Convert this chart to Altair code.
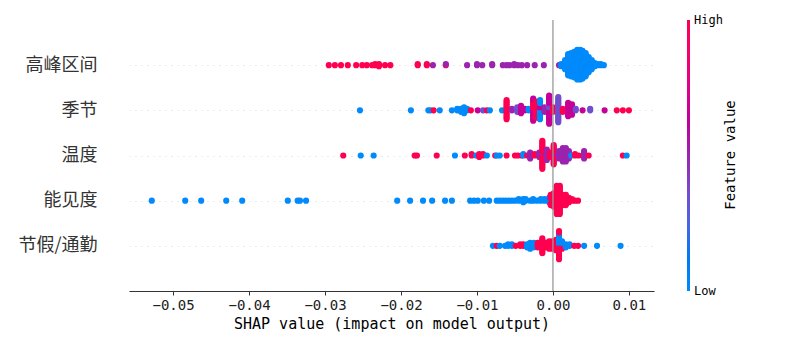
import math
import altair as alt
import pandas as pd

# Features, top to bottom
features = ["高峰区间", "季节", "温度", "能见度", "节假/通勤"]

# ---- 高峰区间 ----
peak_shap = [-0.0295, -0.0287, -0.0279, -0.0270, -0.0259, -0.0251, -0.0245, -0.0238, -0.0234, -0.0229, -0.0221, -0.0214,
             -0.0178, -0.0166, -0.0158, -0.0141, -0.0141,
             -0.0113, -0.0100, -0.0093, -0.0080, -0.0066, -0.0061, -0.0057, -0.0051, -0.0046, -0.0041, -0.0034, -0.0024, -0.0012, 0.0008,
             0.0011, 0.0016, 0.0020, 0.0024, 0.0028, 0.0032, 0.0036, 0.0039, 0.0043, 0.0047, 0.0051, 0.0055, 0.0059, 0.0063, 0.0067]
peak_fval = [1, 1, 1, 1, 1, 1, 1, 1, 1, 1, 1, 1,
             1, 1, 0.5, 1, 0.5,
             0.5, 0.5, 0.5, 0.5, 0.5, 0.5, 0.5, 0.5, 0.5, 0.5, 0.5, 0.5, 0.5, 0.5,
             0, 0, 0, 0, 0, 0, 0, 0, 0, 0, 0, 0, 0, 0, 0]
peak_count = [1, 1, 1, 1, 1, 1, 1, 1, 2, 3, 1, 1,
              2, 2, 1, 1, 1,
              1, 2, 1, 2, 1, 1, 1, 2, 1, 1, 1, 1, 1, 1,
              3, 10, 22, 24, 26, 30, 30, 28, 24, 16, 10, 4, 2, 2, 1]

# ---- 季节 ----
season_shap = [-0.0254, -0.0187, -0.0164, -0.0161, -0.0157, -0.0149, -0.0133, -0.0126, -0.0121, -0.0117, -0.0113,
               -0.0108, -0.0099, -0.0092, -0.0087, -0.0083, -0.0067, -0.0061, -0.0054, -0.0047, -0.0042, -0.0037,
               -0.0032, -0.0026, -0.0026, -0.0022, -0.0017, -0.0017, -0.0011, -0.0005, -0.0005, 0.0000, 0.0007,
               0.0013, 0.0020, 0.0025, 0.0030, 0.0039, 0.0049, 0.0068, 0.0084, 0.0092, 0.0100]
season_fval = [0, 0, 0, 0, 1, 0, 0, 0, 0, 0, 0,
               1, 0.65, 0.35, 1, 0, 0, 1, 0.5, 0.35, 0.65, 0.65,
               0, 0.65, 1, 1, 0, 0.65, 0.5, 0.65, 0.35, 1, 0.35,
               1, 0.65, 0.65, 0.35, 0.65, 0.35, 0.65, 1, 1, 1]
season_count = [1, 1, 1, 1, 1, 1, 1, 2, 3, 5, 2,
                1, 1, 1, 1, 1, 1, 14, 2, 4, 6, 2,
                2, 10, 6, 12, 10, 4, 4, 16, 4, 4, 18,
                3, 10, 8, 2, 1, 2, 1, 1, 1, 1]

# ---- 温度 ----
temp_shap = [-0.0276, -0.0253, -0.0236, -0.0182, -0.0179, -0.0153, -0.0129, -0.0116, -0.0107, -0.0101, -0.0097,
             -0.0092, -0.0087, -0.0076, -0.0074, -0.0070, -0.0061, -0.0050, -0.0046, -0.0041, -0.0039, -0.0034,
             -0.0030, -0.0024, -0.0018, -0.0014, -0.0014, -0.0008, -0.0004, 0.0001, 0.0001, 0.0008, 0.0013, 0.0017,
             0.0021, 0.0024, 0.0029, 0.0034, 0.0041, 0.0047, 0.0092, 0.0097]
temp_fval = [1, 0, 0, 1, 1, 1, 0, 1, 1, 0, 1,
             1, 0, 1, 0, 0, 1, 1, 1, 1, 0, 1,
             0.5, 1, 0.5, 1, 0.5, 0.5, 1, 1, 0.5, 0.5, 0.5, 0.5,
             0.5, 0, 1, 1, 0.5, 1, 1, 0]
temp_count = [1, 1, 1, 1, 1, 1, 1, 1, 2, 1, 3,
              2, 1, 1, 1, 1, 1, 1, 1, 1, 2, 1,
              5, 2, 4, 18, 2, 8, 4, 12, 2, 6, 10, 10,
              6, 1, 2, 1, 6, 1, 1, 1]

# ---- 能见度 ----
vis_shap = [-0.0528, -0.0484, -0.0463, -0.0430, -0.0409, -0.0349, -0.0336, -0.0333, -0.0325,
            -0.0205, -0.0188, -0.0171, -0.0159, -0.0142, -0.0133,
            -0.0109, -0.0104, -0.0099, -0.0091, -0.0084, -0.0074, -0.0070, -0.0066, -0.0062, -0.0058, -0.0054,
            -0.0050, -0.0045, -0.0039, -0.0036, -0.0030, -0.0026, -0.0021, -0.0016, -0.0011, -0.0005,
            -0.0003, -0.0003, 0.0001, 0.0005, 0.0009, 0.0013, 0.0017, 0.0021, 0.0025, 0.0029, 0.0033]
vis_fval = [0, 0, 0, 0, 0, 0, 0, 0, 0,
            0, 0, 0, 0, 0, 0,
            0, 0, 0, 0, 0, 0, 0, 0, 0, 0, 0,
            0, 0, 0, 0, 0, 0, 0, 0, 0, 0,
            0, 1, 1, 1, 1, 1, 1, 1, 1, 1, 1]
vis_count = [1, 1, 1, 1, 1, 1, 1, 1, 1,
             1, 1, 1, 1, 1, 1,
             1, 1, 1, 1, 1, 1, 1, 1, 1, 1, 1,
             1, 2, 3, 2, 1, 2, 1, 2, 2, 4,
             2, 6, 10, 20, 20, 8, 8, 4, 2, 1, 1]

# ---- 节假/通勤 ----
hol_shap = [-0.0079, -0.0074, -0.0070, -0.0063, -0.0059, -0.0054, -0.0049, -0.0043, -0.0039, -0.0034, -0.0030,
            -0.0025, -0.0020, -0.0014, -0.0009, -0.0005, -0.0001, 0.0004, 0.0008, 0.0008, 0.0012, 0.0012,
            0.0017, 0.0022, 0.0028, 0.0033, 0.0041, 0.0058, 0.0089]
hol_fval = [0, 1, 0, 0, 0, 0, 1, 1, 1, 0, 0,
            0, 1, 1, 1, 1, 1, 1, 1, 0, 1, 0,
            0, 0, 1, 1, 0, 0, 0]
hol_count = [1, 1, 1, 1, 2, 2, 1, 2, 2, 3, 5,
             4, 4, 11, 4, 6, 6, 8, 12, 8, 3, 3,
             3, 2, 1, 1, 1, 1, 1]

# SHAP red_blue colour map
cmap_pos = [0, 0.125, 0.25, 0.375, 0.5, 0.625, 0.75, 0.875, 1]
cmap_col = ["#008afb", "#0079f3", "#4b64e4", "#7948ca", "#9b24ae", "#bf0099", "#e10088", "#f5006f", "#ff0051"]


def swarm(shap, fval, count, row):
    groups, order = {}, []
    for s, f, c in zip(shap, fval, count):
        if s not in groups:
            groups[s] = []
            order.append(s)
        groups[s].append([f] * c)
    pts = []
    for s in order:
        lists = groups[s]
        seq = []
        for i in range(max(len(l) for l in lists)):
            for l in lists:
                if i < len(l):
                    seq.append(l[i])
        for k, f in enumerate(seq):
            layer = math.ceil(k / 2) * (1 if k % 2 else -1)
            pts.append({"shap": s, "fval": f, "layer": layer})
    maxl = max(abs(p["layer"]) for p in pts)
    for p in pts:
        p["y"] = row + p["layer"] * 0.9 * 0.4 / (maxl + 1)
    return pts


n = len(features)
rows = []
rows += swarm(peak_shap, peak_fval, peak_count, n - 1)
rows += swarm(season_shap, season_fval, season_count, n - 2)
rows += swarm(temp_shap, temp_fval, temp_count, n - 3)
rows += swarm(vis_shap, vis_fval, vis_count, n - 4)
rows += swarm(hol_shap, hol_fval, hol_count, n - 5)
df = pd.DataFrame(rows)

W, H = 525, 271
names_js = "[" + ",".join("'" + f + "'" for f in reversed(features)) + "]"

points = alt.Chart(df).mark_circle(size=38, opacity=1).encode(
    x=alt.X("shap:Q",
            scale=alt.Scale(domain=[-0.0558, 0.0133], nice=False, zero=False),
            axis=alt.Axis(values=[-0.05, -0.04, -0.03, -0.02, -0.01, 0.0, 0.01], format=".2f",
                          title="SHAP value (impact on model output)",
                          labelFont="DejaVu Sans Mono", labelFontSize=14, labelColor="#222",
                          titleFont="DejaVu Sans Mono", titleFontSize=15, titleFontWeight="normal",
                          titleColor="#000", titlePadding=4,
                          domainColor="#333", tickColor="#333", tickSize=4, labelPadding=3, grid=False)),
    y=alt.Y("y:Q",
            scale=alt.Scale(domain=[-1, n], nice=False, zero=False),
            axis=alt.Axis(values=list(range(n)), labelExpr=names_js + "[datum.value]",
                          labelFont="Noto Sans CJK SC", labelFontSize=18, labelColor="#333",
                          domain=False, ticks=False, tickSize=0, labelPadding=32,
                          grid=True, gridColor="#cccccc", gridDash=[1, 5], gridWidth=0.8, title=None)),
    color=alt.Color("fval:Q", scale=alt.Scale(domain=cmap_pos, range=cmap_col, interpolate="rgb"), legend=None),
)

zero = alt.Chart(pd.DataFrame({"x": [0.0]})).mark_rule(color="#999999", strokeWidth=1.3).encode(x="x:Q")

one = pd.DataFrame({"a": [0]})
grad = alt.Gradient(gradient="linear",
                    stops=[alt.GradientStop(offset=p, color=c) for p, c in zip(cmap_pos, cmap_col)],
                    x1=0, x2=0, y1=1, y2=0)
cbar = alt.Chart(one).mark_rect(color=grad).encode(
    x=alt.value(558), x2=alt.value(561), y=alt.value(0), y2=alt.value(H))
hi = alt.Chart(one).mark_text(text="High", align="left", baseline="middle", font="DejaVu Sans Mono",
                              fontSize=12, color="#000").encode(x=alt.value(565), y=alt.value(0))
lo = alt.Chart(one).mark_text(text="Low", align="left", baseline="middle", font="DejaVu Sans Mono",
                              fontSize=12, color="#000").encode(x=alt.value(565), y=alt.value(H))
ftitle = alt.Chart(one).mark_text(text="Feature value", align="center", baseline="middle", angle=270,
                                  font="DejaVu Sans Mono", fontSize=14, color="#000").encode(
    x=alt.value(602), y=alt.value(135))

chart = alt.layer(points, zero, cbar, hi, lo, ftitle).properties(
    width=W, height=H,
    autosize=alt.AutoSizeParams(type="none"),
    padding={"left": 129, "top": 20, "right": 146, "bottom": 59},
).configure_view(strokeWidth=0)

chart.save("out.html", embed_options={"renderer": "svg", "actions": False})
